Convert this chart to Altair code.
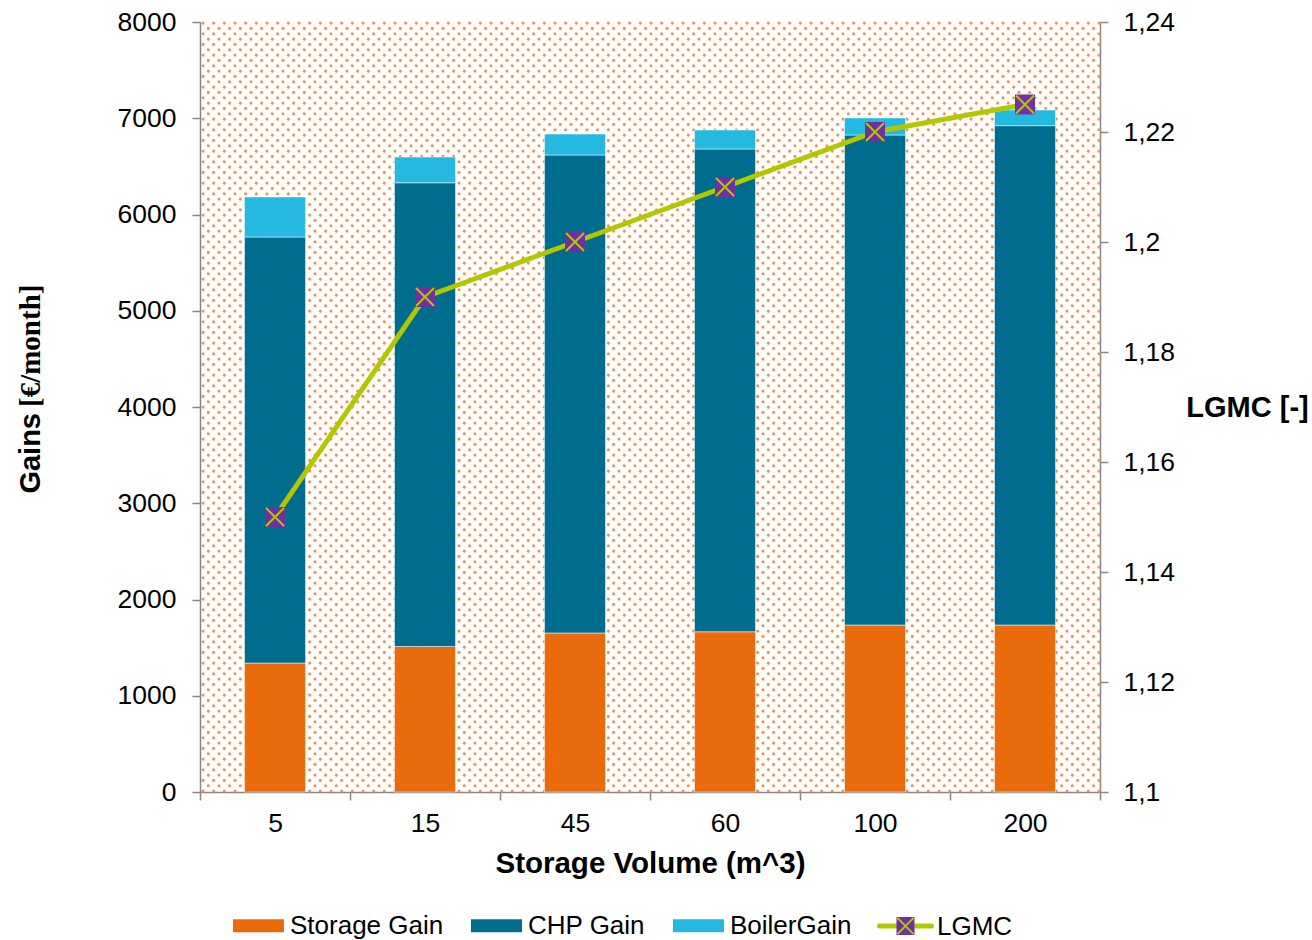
import altair as alt
import numpy as np
import pandas as pd

# ---- data -------------------------------------------------------------
volumes = ["5", "15", "45", "60", "100", "200"]
storage_gain = [1340, 1512, 1652, 1665, 1735, 1735]
chp_gain = [4426, 4818, 4966, 5016, 5091, 5188]
boiler_gain = [416, 267, 218, 197, 177, 163]
lgmc = [1.15, 1.19, 1.20, 1.21, 1.22, 1.225]

series_names = ["Storage Gain", "CHP Gain", "BoilerGain"]
series_colors = ["#EA6B0C", "#006D8F", "#25B9E2"]

gain_ticks = list(range(0, 8001, 1000))
lgmc_ticks = [1.10, 1.12, 1.14, 1.16, 1.18, 1.20, 1.22, 1.24]

# ---- styling ----------------------------------------------------------
W, H = 900, 770
FONT = "Liberation Sans"
AXIS_GREY = "#868686"
LINE_GREEN = "#B3C700"
MARKER_PURPLE = "#7030A0"
X_SHAPE = "M-0.9,-0.9L0.9,0.9M-0.9,0.9L0.9,-0.9"
RECT_SHAPE = "M-1,-0.255H1V0.255H-1Z"
TICK_FS = 26.5
TITLE_FS = 29.5
LEGEND_FS = 26
LEGEND_ROW_Y = 904

# ---- tables -----------------------------------------------------------
rows = []
for rank, (name, vals) in enumerate(
    zip(series_names, [storage_gain, chp_gain, boiler_gain])
):
    for vol, v in zip(volumes, vals):
        rows.append({"vol": vol, "series": name, "value": v, "rank": rank})
bars_df = pd.DataFrame(rows)
line_df = pd.DataFrame({"vol": volumes, "lgmc": lgmc})

# dotted fill texture of the plot area (two dots per square tile)
TILE = 32 / 3
ux, uy = W / TILE, H / TILE
gi, gj = np.meshgrid(np.arange(int(np.ceil(ux)) + 1), np.arange(int(np.ceil(uy)) + 1))
du = np.concatenate([gi.ravel() + 0.28, gi.ravel() + 0.78])
dv = np.concatenate([gj.ravel() + 0.10, gj.ravel() + 0.60])
keep = (du <= ux) & (dv <= uy)
dots_df = pd.DataFrame({"u": du[keep], "v": dv[keep]})

one = pd.DataFrame({"k": [0]})

# ---- layers -----------------------------------------------------------
pattern = alt.Chart(dots_df).mark_circle(size=10, color="#F29055", opacity=1).encode(
    x=alt.X("u:Q", scale=alt.Scale(domain=[0, ux], nice=False, zero=False), axis=None),
    y=alt.Y("v:Q", scale=alt.Scale(domain=[0, uy], nice=False, zero=False, reverse=True), axis=None),
)

x_enc = alt.X(
    "vol:N",
    sort=volumes,
    scale=alt.Scale(paddingInner=0, paddingOuter=0),
    axis=alt.Axis(
        title="Storage Volume (m^3)",
        labelAngle=0,
        labelFontSize=TICK_FS,
        labelColor="black",
        labelPadding=10,
        tickSize=8,
        tickBand="extent",
        domainColor=AXIS_GREY,
        tickColor=AXIS_GREY,
        domainWidth=1.5,
        tickWidth=1.5,
        titleFontSize=TITLE_FS,
        titleFontWeight="bold",
        titleColor="black",
        titleY=71,
        titleBaseline="middle",
    ),
)

bars = alt.Chart(bars_df).mark_bar(size=61, stroke="white", strokeWidth=0.5).encode(
    x=x_enc,
    y=alt.Y(
        "value:Q",
        stack="zero",
        scale=alt.Scale(domain=[0, 8000], nice=False),
        axis=alt.Axis(
            orient="left",
            values=gain_ticks,
            format="d",
            title=None,
            labelFontSize=TICK_FS,
            labelColor="black",
            labelPadding=16,
            tickSize=8,
            domainColor=AXIS_GREY,
            tickColor=AXIS_GREY,
            domainWidth=1.5,
            tickWidth=1.5,
        ),
    ),
    color=alt.Color(
        "series:N",
        scale=alt.Scale(domain=series_names, range=series_colors),
        legend=alt.Legend(
            title=None,
            orient="none",
            legendX=33,
            legendY=878,
            direction="horizontal",
            columns=3,
            symbolType=RECT_SHAPE,
            symbolSize=2601,
            symbolStrokeWidth=0,
            symbolOpacity=1,
            labelFontSize=LEGEND_FS,
            labelFont=FONT,
            labelColor="black",
            labelOffset=6,
            labelLimit=300,
            columnPadding=27,
        ),
    ),
    order=alt.Order("rank:Q", sort="ascending"),
)

y_lgmc = alt.Y(
    "lgmc:Q",
    scale=alt.Scale(domain=[1.1, 1.24], nice=False, zero=False),
    axis=alt.Axis(
        orient="right",
        values=lgmc_ticks,
        labelExpr="replace(format(datum.value, '.3~f'), '.', ',')",
        labelFontSize=TICK_FS,
        labelColor="black",
        labelPadding=15,
        tickSize=8,
        domainColor=AXIS_GREY,
        tickColor=AXIS_GREY,
        domainWidth=1.5,
        tickWidth=1.5,
        title="LGMC [-]",
        titleAngle=0,
        titleX=147,
        titleY=385,
        titleAlign="center",
        titleBaseline="middle",
        titleFontSize=29,
        titleFontWeight="bold",
        titleColor="black",
    ),
)

line = alt.Chart(line_df).mark_line(color=LINE_GREEN, strokeWidth=5).encode(x=x_enc, y=y_lgmc)
squares = alt.Chart(line_df).mark_point(
    shape="square", filled=True, size=400, color=MARKER_PURPLE, opacity=1
).encode(x=x_enc, y=y_lgmc)
crosses = alt.Chart(line_df).mark_point(
    shape=X_SHAPE, filled=False, size=400, stroke=LINE_GREEN, strokeWidth=2, opacity=1
).encode(x=x_enc, y=y_lgmc)

lgmc_layer = alt.layer(line, squares, crosses)
main = alt.layer(bars, lgmc_layer).resolve_scale(y="independent")

# left axis title: sans "Gains" followed by a serif unit
title_gains = alt.Chart(one).mark_text(
    text="Gains", angle=270, align="right", baseline="middle",
    font=FONT, fontWeight="bold", fontSize=29, color="black",
).encode(x=alt.value(-169), y=alt.value(391))
title_unit = alt.Chart(one).mark_text(
    text="[€/month]", angle=270, align="left", baseline="middle",
    font="Liberation Serif", fontWeight="bold", fontSize=29, color="black",
).encode(x=alt.value(-169), y=alt.value(385))

# legend entry for the LGMC line
leg_line = alt.Chart(one).mark_rule(color=LINE_GREEN, strokeWidth=5, strokeCap="round").encode(
    x=alt.value(679.5), x2=alt.value(731.5), y=alt.value(LEGEND_ROW_Y)
)
leg_square = alt.Chart(one).mark_point(
    shape="square", filled=True, size=324, color=MARKER_PURPLE, opacity=1
).encode(x=alt.value(705.5), y=alt.value(LEGEND_ROW_Y))
leg_cross = alt.Chart(one).mark_point(
    shape=X_SHAPE, filled=False, size=324, stroke=LINE_GREEN, strokeWidth=2, opacity=1
).encode(x=alt.value(705.5), y=alt.value(LEGEND_ROW_Y))
leg_text = alt.Chart(one).mark_text(
    text="LGMC", align="left", baseline="middle", font=FONT, fontSize=LEGEND_FS, color="black"
).encode(x=alt.value(737), y=alt.value(LEGEND_ROW_Y + 1))

chart = (
    alt.layer(
        pattern, main, title_gains, title_unit, leg_line, leg_square, leg_cross, leg_text
    )
    .resolve_scale(x="independent", y="independent")
    .properties(
        width=W,
        height=H,
        padding={"left": 200, "top": 22, "right": 212, "bottom": 148},
        autosize=alt.AutoSizeParams(type="none"),
        background="white",
    )
    .configure(font=FONT)
    .configure_axis(labelFont=FONT, titleFont=FONT)
    .configure_view(stroke="transparent")
)

chart.save("out.html", embed_options={"renderer": "svg", "actions": False})
